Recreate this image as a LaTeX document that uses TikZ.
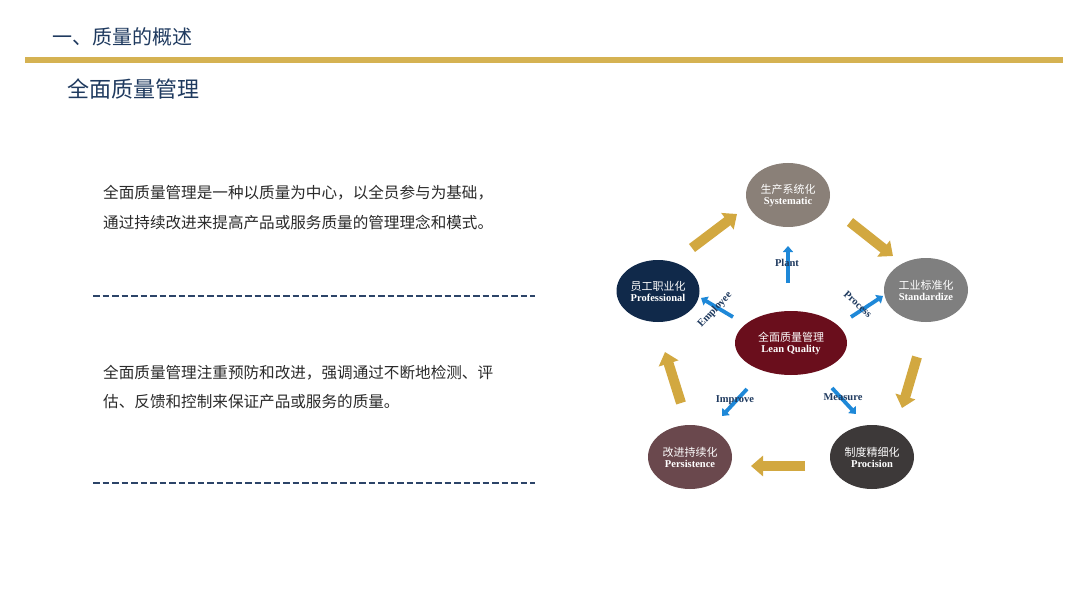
\documentclass[tikz,border=0pt]{standalone}
\usepackage{fontspec}
\setmainfont{Liberation Serif}
\newfontfamily\cjk{Noto Sans CJK SC}
\usetikzlibrary{arrows.meta,shapes.geometric}
\definecolor{titleblue}{HTML}{1F3A5F}
\definecolor{barGold}{HTML}{D5B252}
\definecolor{arrGold}{HTML}{D2A840}
\definecolor{arrBlue}{HTML}{1E88D8}
\definecolor{dashNavy}{HTML}{2C4468}
\definecolor{bodyText}{HTML}{2A2A2A}
\definecolor{cSys}{HTML}{8A8078}
\definecolor{cStd}{HTML}{7F7F7F}
\definecolor{cProf}{HTML}{10294A}
\definecolor{cLean}{HTML}{6A0E1C}
\definecolor{cPers}{HTML}{6A484D}
\definecolor{cProc}{HTML}{3D3939}
\begin{document}
\begin{tikzpicture}[x=1pt,y=-1pt,
  bub/.style={ellipse, inner sep=0pt, minimum width=84pt, minimum height=64pt, text=white, align=center},
  goldarr/.style={draw=arrGold, line width=10pt, -{Triangle[width=20pt,length=12pt]}},
  bluearr/.style={draw=arrBlue, line width=3.8pt, -{Triangle[width=10pt,length=6pt]}},
  blab/.style={text=titleblue, font=\bfseries\fontsize{10.5}{12}\selectfont, inner sep=0pt},
  para/.style={anchor=west, inner sep=0pt, text=bodyText, font=\cjk\fontsize{15.6}{18}\selectfont},
  dashline/.style={draw=dashNavy, line width=2pt, dash pattern=on 6.5pt off 3pt}
]
\useasboundingbox[fill=white] (0,0) rectangle (1080,607);

% header
\node[anchor=west, inner sep=0pt, text=titleblue, font=\cjk\fontsize{20}{24}\selectfont] (title) at (52,37) {一、质量的概述};
\coordinate (barL) at (25,60);
\coordinate (barR) at (1063,60);
\draw[draw=barGold, line width=6pt] (barL) -- (barR);
\node[anchor=west, inner sep=0pt, text=titleblue, font=\cjk\fontsize{22}{26}\selectfont] (sub) at (67,89) {全面质量管理};

% paragraphs
\node[para] (p1a) at (103,193) {全面质量管理是一种以质量为中心，以全员参与为基础，};
\node[para] (p1b) at (103,222) {通过持续改进来提高产品或服务质量的管理理念和模式。};
\coordinate (d1L) at (93,296);
\coordinate (d1R) at (535,296);
\draw[dashline] (d1L) -- (d1R);
\node[para] (p2a) at (103,373) {全面质量管理注重预防和改进，强调通过不断地检测、评};
\node[para] (p2b) at (103,402) {估、反馈和控制来保证产品或服务的质量。};
\coordinate (d2L) at (93,483);
\coordinate (d2R) at (535,483);
\draw[dashline] (d2L) -- (d2R);

% bubbles
\node[bub, fill=cSys] (sys) at (788,195) {{\cjk\fontsize{11}{14}\selectfont 生产系统化}\\[-1pt]{\bfseries\fontsize{10.5}{12}\selectfont Systematic}};
\node[bub, fill=cStd] (std) at (926,290) {{\cjk\fontsize{11}{14}\selectfont 工业标准化}\\[-1pt]{\bfseries\fontsize{10.5}{12}\selectfont Standardize}};
\node[bub, fill=cProf, minimum width=83pt, minimum height=62pt] (prof) at (658,291) {{\cjk\fontsize{11}{14}\selectfont 员工职业化}\\[-1pt]{\bfseries\fontsize{10.5}{12}\selectfont Professional}};
\node[bub, fill=cLean, minimum width=112pt, minimum height=64pt] (lean) at (791,343) {{\cjk\fontsize{11}{14}\selectfont 全面质量管理}\\[-1pt]{\bfseries\fontsize{10.5}{12}\selectfont Lean Quality}};
\node[bub, fill=cPers] (pers) at (690,457) {{\cjk\fontsize{11}{14}\selectfont 改进持续化}\\[-1pt]{\bfseries\fontsize{10.5}{12}\selectfont Persistence}};
\node[bub, fill=cProc] (proc) at (872,457) {{\cjk\fontsize{11}{14}\selectfont 制度精细化}\\[-1pt]{\bfseries\fontsize{10.5}{12}\selectfont Procision}};

% gold cycle arrows
\coordinate (g1s) at (692,248); \coordinate (g1e) at (737,214);
\coordinate (g2s) at (850,222); \coordinate (g2e) at (893,256);
\coordinate (g3s) at (917,357); \coordinate (g3e) at (902,408);
\coordinate (g4s) at (805,466); \coordinate (g4e) at (751,466);
\coordinate (g5s) at (681,403); \coordinate (g5e) at (665,352);
\draw[goldarr] (g1s) -- (g1e);
\draw[goldarr] (g2s) -- (g2e);
\draw[goldarr] (g3s) -- (g3e);
\draw[goldarr] (g4s) -- (g4e);
\draw[goldarr] (g5s) -- (g5e);

% blue arrows from centre
\coordinate (b1s) at (788,283); \coordinate (b1e) at (788,246);
\coordinate (b2s) at (733,317); \coordinate (b2e) at (701,298);
\coordinate (b3s) at (851,317); \coordinate (b3e) at (883,296);
\coordinate (b4s) at (747,389); \coordinate (b4e) at (722,416);
\coordinate (b5s) at (832,388); \coordinate (b5e) at (856,414);
\draw[bluearr] (b1s) -- (b1e);
\draw[bluearr] (b2s) -- (b2e);
\draw[bluearr] (b3s) -- (b3e);
\draw[bluearr] (b4s) -- (b4e);
\draw[bluearr] (b5s) -- (b5e);

\node[blab] (lplant) at (787,263) {Plant};
\node[blab, rotate=47] (lemp) at (715,310) {Employee};
\node[blab, rotate=-42] (lproc) at (858,304) {Process};
\node[blab] (limp) at (735,400) {Improve};
\node[blab] (lmeas) at (843,397) {Measure};
\end{tikzpicture}
\end{document}
